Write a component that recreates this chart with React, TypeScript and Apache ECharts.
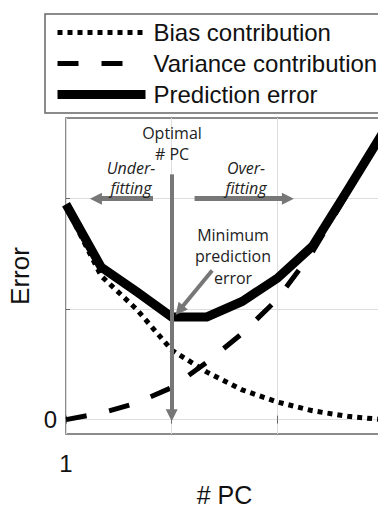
import React, { useEffect, useRef } from "react";
import * as echarts from "echarts";

// Number of principal components on the x axis
const pcs = [1, 2, 3, 4, 5, 6, 7, 8, 9, 10];
const biasContribution = [1.93, 1.3, 1.0, 0.63, 0.43, 0.27, 0.16, 0.08, 0.03, 0.0];
const varianceContribution = [0.0, 0.06, 0.15, 0.29, 0.52, 0.78, 1.09, 1.52, 2.05, 2.6];
const predictionError = [1.95, 1.38, 1.16, 0.93, 0.93, 1.07, 1.28, 1.57, 2.08, 2.6];

const seriesNames = ["Bias contribution", "Variance contribution", "Prediction error"];
const xTickLabels = ["1"];
const yTickLabels = [0];
const yGridValues = [0, 1, 2];
const optimalPc = 4;

const ARROW = "#777";
const SANS = "Liberation Sans, Arial, sans-serif";
const NOTE = "Open Sans, Noto Sans, sans-serif";

const biasStyle = { color: "#000", width: 5, type: [5, 5], cap: "butt" };
const varianceStyle = { color: "#000", width: 5, type: [21, 23], cap: "butt" };
const errorStyle = { color: "#000", width: 9, join: "miter" };

const pairs = (ys: number[]) => pcs.map((x, i) => [x, ys[i]]);

export default function App() {
  const ref = useRef<HTMLDivElement>(null);

  useEffect(() => {
    if (!ref.current) return;
    const chart = echarts.init(ref.current, null, { renderer: "svg" });

    const note = (x: number, y: number, text: string, lineHeight: number, italic = false) => ({
      type: "text",
      x,
      y,
      z: 10,
      style: {
        text,
        fill: "#222",
        font: `${italic ? "italic " : ""}16px ${NOTE}`,
        align: "center",
        verticalAlign: "middle",
        lineHeight,
      },
    });

    chart.setOption({
      animation: false,
      backgroundColor: "#fff",
      grid: {
        left: 66,
        right: 3,
        top: 118,
        bottom: 74,
        show: true,
        borderColor: "#666",
        borderWidth: 1.5,
        backgroundColor: "transparent",
        outerBoundsMode: "none",
      },
      legend: {
        data: [
          { name: seriesNames[0], lineStyle: biasStyle },
          { name: seriesNames[1], lineStyle: varianceStyle },
          { name: seriesNames[2], lineStyle: errorStyle },
        ],
        orient: "vertical",
        left: 45,
        top: 14,
        padding: [5, 10, 5, 8],
        itemWidth: 88,
        itemHeight: 14,
        itemGap: 4,
        borderColor: "#666",
        borderWidth: 1.5,
        borderRadius: 0,
        itemStyle: { opacity: 0 },
        textStyle: {
          fontFamily: SANS,
          fontSize: 24,
          lineHeight: 27,
          color: "#111",
          padding: [0, 0, 0, 3],
        },
        selectedMode: false,
      },
      xAxis: [
        {
          type: "value",
          min: 1,
          max: 10,
          interval: 3,
          name: "# PC",
          nameLocation: "middle",
          nameGap: 48,
          nameTextStyle: { fontFamily: SANS, fontSize: 25, color: "#111" },
          axisLine: { show: false },
          axisTick: { show: true, inside: true, length: 4, lineStyle: { color: "#666" } },
          axisLabel: {
            fontFamily: SANS,
            fontSize: 24,
            color: "#111",
            margin: 17,
            formatter: (v: number) => (xTickLabels.includes(String(v)) ? String(v) : ""),
          },
          splitLine: { show: true, lineStyle: { color: "#ddd", width: 1 } },
        },
        {
          type: "value",
          position: "top",
          min: 1,
          max: 10,
          interval: 3,
          axisLine: { show: false },
          axisTick: { show: true, inside: true, length: 4, lineStyle: { color: "#666" } },
          axisLabel: { show: false },
          splitLine: { show: false },
        },
      ],
      yAxis: [
        {
          type: "value",
          min: -0.13,
          max: 2.73,
          name: "Error",
          nameLocation: "middle",
          nameGap: 32,
          nameTextStyle: { fontFamily: SANS, fontSize: 26, color: "#111" },
          axisLine: { show: false },
          axisTick: {
            show: true,
            inside: true,
            length: 4,
            customValues: yGridValues,
            lineStyle: { color: "#666" },
          },
          axisLabel: {
            fontFamily: SANS,
            fontSize: 24,
            color: "#111",
            margin: 9,
            customValues: yTickLabels,
          },
          splitLine: { show: true, lineStyle: { color: "#ddd", width: 1 } },
        },
        {
          type: "value",
          position: "right",
          min: -0.13,
          max: 2.73,
          axisLine: { show: false },
          axisTick: {
            show: true,
            inside: true,
            length: 4,
            customValues: yGridValues,
            lineStyle: { color: "#666" },
          },
          axisLabel: { show: false },
          splitLine: { show: false },
        },
      ],
      series: [
        {
          name: seriesNames[0],
          type: "line",
          data: pairs(biasContribution),
          symbol: "none",
          clip: true,
          z: 3,
          lineStyle: biasStyle,
        },
        {
          name: seriesNames[1],
          type: "line",
          data: pairs(varianceContribution),
          symbol: "none",
          clip: true,
          z: 3,
          lineStyle: varianceStyle,
        },
        {
          name: seriesNames[2],
          type: "line",
          data: pairs(predictionError),
          symbol: "none",
          clip: true,
          z: 4,
          lineStyle: errorStyle,
        },
        {
          // Annotation arrows, drawn above the curves
          name: "annotations",
          type: "line",
          data: [],
          z: 6,
          markLine: {
            silent: true,
            symbol: ["none", "triangle"],
            symbolSize: [12, 12],
            label: { show: false },
            lineStyle: { color: ARROW, width: 5, type: "solid" },
            data: [
              [
                { coord: [optimalPc, 2.22], lineStyle: { width: 4 } },
                { coord: [optimalPc, 0.04] },
              ],
              [{ coord: [3.47, 2.0] }, { coord: [1.85, 2.0] }],
              [{ coord: [4.65, 2.0] }, { coord: [7.3, 2.0] }],
              [
                { coord: [5.15, 1.35], lineStyle: { width: 4 } },
                { coord: [4.22, 0.99] },
              ],
            ],
          },
        },
      ],
      graphic: [
        note(172, 143, "Optimal\n# PC", 21),
        note(131, 178, "Under-\nfitting", 20, true),
        note(246, 178, "Over-\nfitting", 20, true),
        note(233, 256, "Minimum\nprediction\nerror", 21.5),
      ],
    });

    return () => chart.dispose();
  }, []);

  return <div ref={ref} style={{ width: 386, height: 508, marginLeft: -8, marginTop: -8 }} />;
}
